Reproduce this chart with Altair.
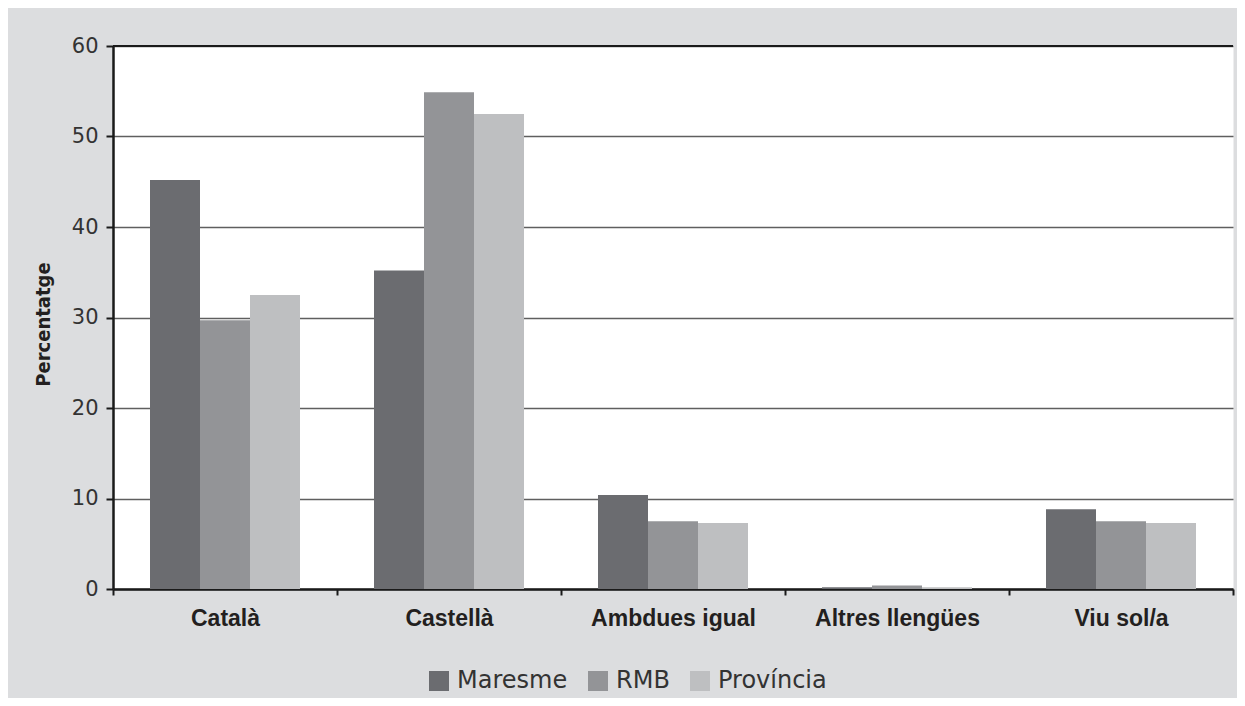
import altair as alt
import pandas as pd

categories = ["Català", "Castellà", "Ambdues igual", "Altres llengües", "Viu sol/a"]
series = ["Maresme", "RMB", "Província"]
maresme = [45.2, 35.2, 10.4, 0.2, 8.8]
rmb = [29.7, 54.9, 7.5, 0.4, 7.5]
provincia = [32.5, 52.5, 7.3, 0.2, 7.3]
colors = ["#6b6c70", "#939497", "#bebfc1"]

rows = []
for s, vals in zip(series, [maresme, rmb, provincia]):
    for c, v in zip(categories, vals):
        rows.append({"cat": c, "serie": s, "pct": v})
df = pd.DataFrame(rows)

W, H = 1120, 543

bars = alt.Chart(df).mark_bar(strokeWidth=0).encode(
    x=alt.X("cat:N", sort=categories, title=None,
            scale=alt.Scale(paddingInner=0, paddingOuter=0),
            axis=alt.Axis(labelAngle=0, tickBand="extent", domainColor="#1a1a1a",
                          domainWidth=2.5, tickColor="#1a1a1a", tickWidth=2, tickSize=6,
                          labelFont="Liberation Sans", labelFontWeight="bold",
                          labelFontSize=23, labelColor="#231f20", labelPadding=12,
                          grid=False)),
    xOffset=alt.XOffset("serie:N", sort=series,
                        scale=alt.Scale(paddingOuter=0.74, paddingInner=0)),
    y=alt.Y("pct:Q", title="Percentatge",
            scale=alt.Scale(domain=[0, 60], nice=False),
            axis=alt.Axis(values=[0, 10, 20, 30, 40, 50, 60], grid=True,
                          gridColor="#5f5f5f", gridWidth=1.5,
                          domainColor="#1a1a1a", domainWidth=2.5,
                          tickColor="#1a1a1a", tickWidth=2, tickSize=7,
                          labelFont="DejaVu Sans", labelFontSize=21, labelColor="#333333",
                          labelPadding=8,
                          titleFont="DejaVu Sans Condensed, Liberation Sans Narrow, sans-serif",
                          titleFontWeight="bold", titleFontSize=20, titleColor="#231f20",
                          titleX=-60, titleY=278, titleAngle=270, titleBaseline="bottom")),
    color=alt.Color("serie:N", sort=series,
                    scale=alt.Scale(domain=series, range=colors),
                    legend=alt.Legend(title=None, orient="none", direction="horizontal",
                                      legendX=314, legendY=623,
                                      symbolType="square", symbolSize=400,
                                      symbolStrokeWidth=0, symbolOpacity=1,
                                      labelFont="DejaVu Sans", labelFontSize=24,
                                      labelColor="#333333", labelOffset=6,
                                      columnPadding=18, padding=0)),
)

top_line = alt.Chart(df).mark_rule(color="#1a1a1a", strokeWidth=2).encode(
    y=alt.datum(60)
)

chart = alt.layer(bars, top_line).properties(
    width=W, height=H,
    autosize=alt.AutoSizeParams(type="none"),
    padding={"left": 105, "top": 38, "right": 4, "bottom": 109},
    background="#dcdddf",
).configure_view(fill="white", stroke="transparent")

chart.save("out.html", embed_options={"renderer": "svg", "actions": False})
